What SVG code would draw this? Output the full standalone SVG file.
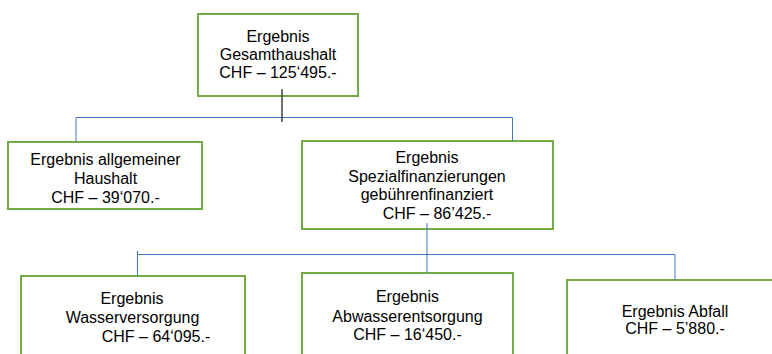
<svg xmlns="http://www.w3.org/2000/svg" width="772" height="354" viewBox="0 0 772 354">
<style>
.box{fill:#fff;stroke:#70AD47;stroke-width:2}
.t{font-family:"Liberation Sans",Arial,sans-serif;font-size:16px;fill:#000;text-anchor:middle}
.c{stroke:#4472C4;stroke-width:1;fill:none}
.g{stroke:#404040;stroke-width:1.5;fill:none}
</style>
<rect width="772" height="354" fill="#fff"/>
<g id="n1">
<rect class="box" x="198" y="14" width="160" height="82"/>
<text class="t" x="278" y="42">Ergebnis</text>
<text class="t" x="278" y="60">Gesamthaushalt</text>
<text class="t" x="278" y="78">CHF – 125‘495.-</text>
</g>
<g id="n2">
<rect class="box" x="8" y="142" width="194" height="67"/>
<text class="t" x="105.5" y="165">Ergebnis allgemeiner</text>
<text class="t" x="105.5" y="184">Haushalt</text>
<text class="t" x="105.5" y="203">CHF – 39‘070.-</text>
</g>
<g id="n3">
<rect class="box" x="302" y="141" width="251" height="88"/>
<text class="t" x="427" y="163">Ergebnis</text>
<text class="t" x="427" y="182">Spezialfinanzierungen</text>
<text class="t" x="427" y="200">gebührenfinanziert</text>
<text class="t" x="437" y="219">CHF – 86’425.-</text>
</g>
<g id="n4">
<rect class="box" x="21" y="276" width="224" height="90"/>
<text class="t" x="132" y="304">Ergebnis</text>
<text class="t" x="132.5" y="323">Wasserversorgung</text>
<text class="t" x="156" y="342">CHF – 64‘095.-</text>
</g>
<g id="n5">
<rect class="box" x="302" y="273" width="211" height="90"/>
<text class="t" x="407.5" y="302">Ergebnis</text>
<text class="t" x="407.5" y="321.5">Abwasserentsorgung</text>
<text class="t" x="407.5" y="340">CHF – 16‘450.-</text>
</g>
<g id="n6">
<rect class="box" x="567" y="280" width="216" height="90"/>
<text class="t" x="675" y="317">Ergebnis Abfall</text>
<text class="t" x="675" y="334">CHF – 5’880.-</text>
</g>
<g id="connectors">
<path class="c" d="M76 142V117.5H512.5V141"/>
<path class="g" d="M282 89V122"/>
<path class="c" d="M427 223V273"/>
<path class="c" d="M137.5 251V276M137.5 254.5H675V280"/>
</g>
</svg>
